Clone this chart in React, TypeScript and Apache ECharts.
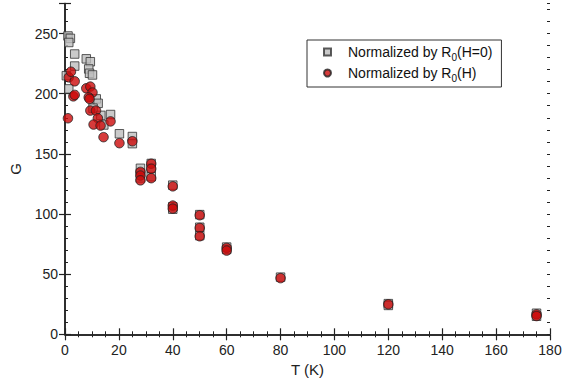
import React, { useEffect, useRef } from "react";
import * as echarts from "echarts";

const sqT = [1.1, 2.0, 1.4, 3.6, 3.6, 0.5, 1.4, 7.9, 9.4, 8.8, 9.1, 10.2, 11.6, 12.3, 10.4, 13.3, 14.4, 16.9, 20.2, 25, 25, 28, 28, 28, 32, 32, 32, 40, 40, 40, 50, 50, 50, 60, 60, 80, 120, 120, 175, 175];
const sqG = [248, 246, 242.6, 233, 223, 215, 204, 229, 226.6, 220.6, 217, 215.6, 195.7, 192, 188, 182, 174, 182.7, 166.7, 164.4, 158.5, 138, 134, 130, 142, 138, 131, 124, 106, 104, 99.5, 89, 82, 72.5, 70.5, 47.5, 25.5, 24, 17.5, 15];
const ciT = [1.1, 1.4, 2.2, 3.6, 3.1, 3.6, 7.9, 9.4, 10.2, 8.8, 9.1, 9.4, 11.5, 12.2, 10.6, 13.2, 14.3, 16.9, 20.2, 25, 28, 28, 28, 32, 32, 32, 40, 40, 40, 50, 50, 50, 60, 60, 80, 120, 175, 175];
const ciG = [179.6, 213.6, 218.3, 210.3, 197.8, 199, 204.5, 205.9, 201, 197, 195.7, 186, 186, 179.6, 174.4, 173.5, 163.9, 177, 158.9, 160.5, 135, 132, 128, 141.8, 137.6, 129.8, 123, 107, 104.5, 99, 88.4, 81.5, 71.8, 69.6, 46.7, 24.9, 16.6, 15.2];

const xTicksMax = 180;
const yMax = 275;
const seriesNames = ["Normalized by R0(H=0)", "Normalized by R0(H)"];

const axisColor = "#222";
const font = "Liberation Sans, Arial, sans-serif";

export default function App() {
  const ref = useRef<HTMLDivElement>(null);
  useEffect(() => {
    if (!ref.current) return;
    const chart = echarts.init(ref.current, null, { renderer: "svg" });
    const baseX = {
      type: "value",
      min: 0,
      max: xTicksMax,
      interval: 20,
      splitLine: { show: false },
      axisLine: { show: true, lineStyle: { color: axisColor, width: 1.5 } },
      axisTick: { show: true, inside: true, length: 6, lineStyle: { color: axisColor, width: 1.2 } },
      minorTick: { show: true, splitNumber: 4, length: 3, lineStyle: { color: axisColor, width: 1 } },
    };
    const baseY = {
      type: "value",
      min: 0,
      max: yMax,
      interval: 50,
      splitLine: { show: false },
      axisLine: { show: true, lineStyle: { color: axisColor, width: 1.5 } },
      axisTick: { show: true, inside: true, length: 6, lineStyle: { color: axisColor, width: 1.2 } },
    };
    const minorY = {
      type: "value",
      min: 0,
      max: yMax,
      interval: 10,
      splitLine: { show: false },
      axisLine: { show: false },
      axisLabel: { show: false },
      axisTick: { show: true, inside: true, length: 3, lineStyle: { color: axisColor, width: 1 } },
    };
    const sub = (n: string) => {
      const [pre, post] = n.split("R0");
      return "{a|" + pre + "R}{s|0}{a|" + post + "}";
    };
    chart.setOption({
      animation: false,
      grid: { left: 63, right: 17, top: 3.5, bottom: 48.7, containLabel: false },
      xAxis: [
        {
          ...baseX,
          position: "bottom",
          name: "T (K)",
          nameLocation: "middle",
          nameGap: 28,
          nameTextStyle: { fontFamily: font, fontSize: 15, color: axisColor },
          axisLabel: { fontFamily: font, fontSize: 14, color: axisColor, margin: 9 },
        },
        { ...baseX, position: "top", axisLabel: { show: false } },
      ],
      yAxis: [
        {
          ...baseY,
          position: "left",
          name: "G",
          nameLocation: "middle",
          nameGap: 42,
          nameTextStyle: { fontFamily: font, fontSize: 15, color: axisColor },
          axisLabel: {
            fontFamily: font,
            fontSize: 14,
            color: axisColor,
            margin: 7,
            formatter: (v: number) => (v === yMax ? "" : String(v)),
          },
        },
        { ...baseY, position: "right", axisLabel: { show: false } },
        { ...minorY, position: "left" },
        { ...minorY, position: "right" },
      ],
      legend: {
        orient: "vertical",
        left: 307,
        top: 40,
        padding: [5, 9, 4, 16],
        itemGap: 4,
        itemWidth: 7,
        itemHeight: 7,
        borderColor: "#333",
        borderWidth: 1,
        borderRadius: 0,
        data: [
          { name: seriesNames[0], icon: "rect" },
          { name: seriesNames[1], icon: "circle" },
        ],
        formatter: (n: string) => sub(n),
        textStyle: {
          fontFamily: font,
          fontSize: 14,
          color: "#111",
          padding: [0, 0, 0, 12],
          rich: {
            a: { fontFamily: font, fontSize: 14, color: "#111", lineHeight: 18 },
            s: { fontFamily: font, fontSize: 10, color: "#111", lineHeight: 18, verticalAlign: "bottom", padding: [0, 0, -1, 0] },
          },
        },
      },
      series: [
        {
          name: seriesNames[0],
          type: "scatter",
          symbol: "rect",
          symbolSize: 8.5,
          itemStyle: { color: "#bdbdbd", borderColor: "#333", borderWidth: 1 },
          data: sqT.map((t, i) => [t, sqG[i]]),
          clip: false,
        },
        {
          name: seriesNames[1],
          type: "scatter",
          symbol: "circle",
          symbolSize: 9.5,
          itemStyle: { color: "#cc0a0a", borderColor: "#222", borderWidth: 1 },
          data: ciT.map((t, i) => [t, ciG[i]]),
          clip: false,
        },
      ],
    });
    return () => chart.dispose();
  }, []);
  return <div ref={ref} style={{ width: 567, height: 383, position: "absolute", left: 0, top: 0 }} />;
}
